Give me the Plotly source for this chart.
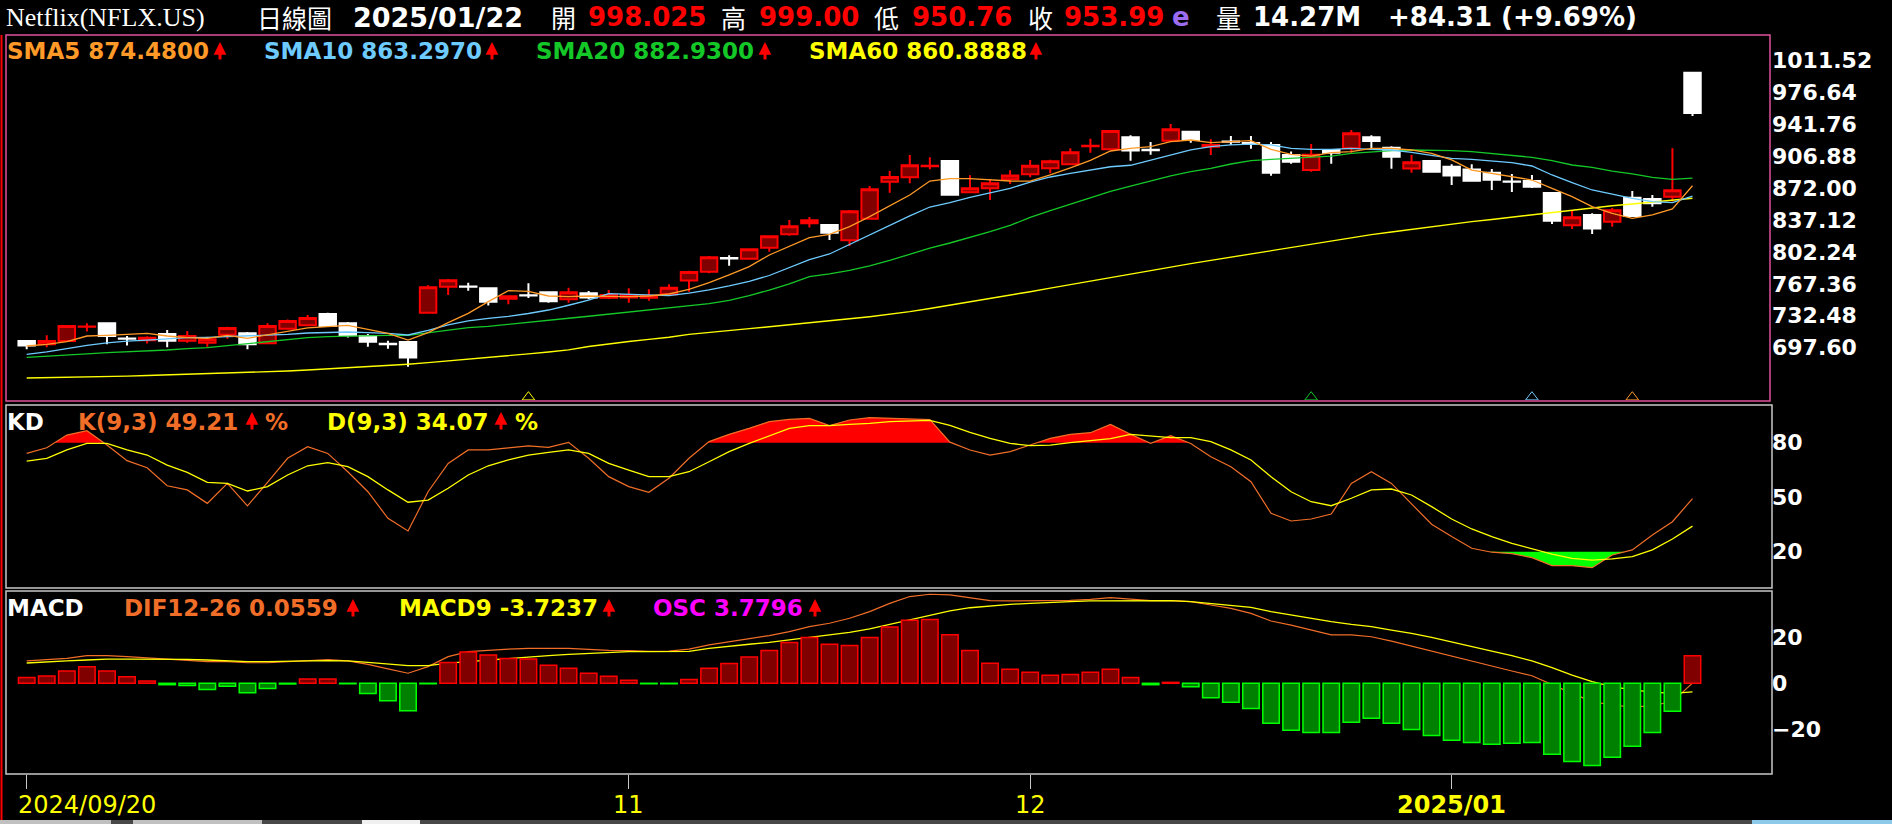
import plotly.graph_objects as go

W, H = 1892, 824

# ---------------- data ----------------
dates = [
    "2024-09-20", "2024-09-23", "2024-09-24", "2024-09-25", "2024-09-26", "2024-09-27", "2024-09-30",
    "2024-10-01", "2024-10-02", "2024-10-03", "2024-10-04", "2024-10-07", "2024-10-08", "2024-10-09",
    "2024-10-10", "2024-10-11", "2024-10-14", "2024-10-15", "2024-10-16", "2024-10-17", "2024-10-18",
    "2024-10-21", "2024-10-22", "2024-10-23", "2024-10-24", "2024-10-25", "2024-10-28", "2024-10-29",
    "2024-10-30", "2024-10-31",
    "2024-11-01", "2024-11-04", "2024-11-05", "2024-11-06", "2024-11-07", "2024-11-08", "2024-11-11",
    "2024-11-12", "2024-11-13", "2024-11-14", "2024-11-15", "2024-11-18", "2024-11-19", "2024-11-20",
    "2024-11-21", "2024-11-22", "2024-11-25", "2024-11-26", "2024-11-27", "2024-11-29",
    "2024-12-02", "2024-12-03", "2024-12-04", "2024-12-05", "2024-12-06", "2024-12-09", "2024-12-10",
    "2024-12-11", "2024-12-12", "2024-12-13", "2024-12-16", "2024-12-17", "2024-12-18", "2024-12-19",
    "2024-12-20", "2024-12-23", "2024-12-24", "2024-12-26", "2024-12-27", "2024-12-30", "2024-12-31",
    "2025-01-02", "2025-01-03", "2025-01-06", "2025-01-07", "2025-01-08", "2025-01-10", "2025-01-13",
    "2025-01-14", "2025-01-15", "2025-01-16", "2025-01-17", "2025-01-21", "2025-01-22",
]

open_ = [
    704.9, 701.3, 704.9, 720.4, 724.3, 707.8, 705.7, 712.6, 705.3, 703.1,
    711.9, 713.3, 702.4, 718.4, 722.1, 734.5, 724.3, 710.4, 702.0, 703.9,
    735.9, 764.3, 764.5, 762.5, 751.2, 755.0, 758.1, 750.5, 757.0, 752.3,
    752.6, 752.3, 755.9, 770.9, 780.7, 795.5, 794.9, 806.9, 821.5, 833.5,
    831.7, 814.9, 838.6, 879.0, 883.7, 895.8, 901.6, 867.4, 871.7, 881.6,
    887.0, 893.6, 897.9, 917.8, 914.3, 927.4, 913.8, 923.8, 933.6, 917.2,
    922.9, 921.1, 919.1, 908.1, 891.7, 913.6, 915.4, 927.6, 916.1, 893.4,
    901.6, 895.2, 892.3, 888.6, 879.2, 879.7, 866.6, 831.3, 842.6, 835.3,
    861.5, 860.1, 862.6, 998.025,
]
high = [
    706.0, 711.1, 722.4, 724.3, 724.6, 710.4, 710.1, 717.0, 715.9, 709.7,
    720.6, 714.8, 724.3, 728.3, 733.4, 735.9, 725.7, 712.6, 705.3, 704.2,
    765.8, 772.7, 768.7, 762.9, 754.8, 767.9, 758.5, 763.2, 759.6, 760.7,
    762.5, 761.6, 766.9, 781.8, 797.8, 798.5, 806.2, 820.0, 837.1, 840.4,
    832.0, 848.0, 874.3, 890.6, 908.1, 905.6, 901.9, 885.9, 881.9, 891.4,
    902.7, 903.0, 915.4, 926.0, 935.4, 929.6, 922.3, 942.0, 934.7, 925.2,
    928.9, 928.9, 922.3, 912.0, 920.1, 914.0, 935.4, 929.8, 917.6, 908.0,
    902.7, 898.1, 898.1, 892.8, 887.4, 886.3, 866.8, 847.0, 844.4, 850.2,
    868.8, 864.4, 915.4, 999.00,
]
low = [
    695.9, 698.0, 703.9, 715.2, 701.3, 699.9, 702.1, 698.0, 703.1, 698.8,
    707.5, 695.9, 701.7, 717.7, 721.3, 720.6, 708.9, 698.8, 696.6, 676.9,
    735.2, 755.2, 759.9, 743.6, 745.0, 751.9, 746.8, 746.8, 750.5, 750.8,
    746.8, 749.0, 754.1, 758.8, 778.9, 787.2, 794.2, 802.5, 820.0, 828.8,
    815.3, 808.7, 837.9, 867.0, 877.2, 892.5, 863.7, 866.3, 859.0, 876.5,
    883.7, 888.1, 897.2, 910.7, 913.6, 901.9, 908.5, 922.7, 921.6, 908.1,
    919.1, 914.9, 885.4, 898.6, 889.7, 898.6, 910.7, 915.4, 893.0, 888.8,
    888.8, 875.4, 878.8, 869.9, 867.7, 872.1, 832.8, 827.3, 821.8, 829.8,
    840.8, 851.7, 857.2, 950.76,
]
close = [
    699.9, 705.0, 721.3, 720.8, 710.4, 707.3, 708.6, 705.3, 710.4, 706.8,
    719.2, 701.3, 721.3, 726.8, 730.1, 721.3, 711.1, 704.2, 701.5, 686.8,
    763.6, 771.2, 764.1, 747.9, 753.7, 754.6, 748.3, 758.1, 752.6, 755.2,
    755.2, 754.5, 763.2, 780.3, 796.4, 795.1, 805.1, 819.3, 830.2, 836.8,
    823.3, 846.6, 870.6, 884.1, 896.8, 896.3, 864.8, 871.7, 877.2, 885.6,
    896.5, 901.2, 911.0, 918.2, 934.3, 912.9, 913.4, 936.2, 924.5, 919.1,
    922.5, 920.7, 888.8, 900.8, 908.5, 910.7, 931.8, 923.4, 906.3, 900.1,
    889.9, 885.6, 880.0, 881.2, 878.8, 873.5, 836.2, 840.1, 827.7, 847.7,
    841.5, 855.3, 869.7, 953.99,
]

sma5 = [
    699.5, 701.3, 704.2, 710.4, 711.1, 712.2, 713.3, 710.4, 708.6, 707.9,
    711.1, 707.9, 711.5, 715.2, 719.2, 720.6, 722.1, 717.7, 713.3, 706.0,
    714.1, 725.0, 735.2, 748.0, 760.0, 759.2, 754.1, 753.4, 754.1, 753.7,
    753.4, 754.1, 756.3, 761.4, 768.7, 777.1, 786.2, 798.9, 808.0, 817.8,
    821.5, 829.8, 840.8, 852.4, 864.4, 879.7, 882.3, 882.3, 880.8, 879.7,
    879.5, 886.3, 894.0, 902.2, 912.5, 915.4, 917.2, 922.7, 924.5, 921.6,
    922.7, 923.8, 914.3, 908.9, 907.0, 910.7, 911.8, 915.4, 915.4, 913.6,
    909.9, 902.7, 891.7, 888.1, 883.7, 880.8, 871.7, 862.6, 851.7, 844.4,
    838.9, 842.6, 849.2, 874.48,
]
sma10 = [
    690.4, 693.0, 696.6, 700.2, 702.8, 704.9, 706.0, 707.5, 708.6, 709.0,
    709.7, 710.4, 711.1, 712.2, 713.7, 714.4, 714.8, 714.1, 713.3, 711.5,
    716.5, 722.5, 727.0, 729.6, 731.8, 735.0, 738.8, 744.0, 749.5, 756.7,
    755.8, 754.6, 754.5, 757.3, 760.7, 765.1, 770.2, 776.5, 784.9, 793.9,
    800.0, 810.6, 820.5, 831.2, 841.7, 851.3, 856.1, 861.9, 867.0, 871.7,
    878.6, 884.1, 888.1, 891.5, 895.3, 896.9, 902.2, 908.1, 913.6, 917.2,
    919.1, 920.1, 919.1, 915.4, 914.3, 914.3, 915.4, 914.3, 913.6, 911.0,
    908.1, 904.5, 903.4, 901.9, 899.8, 896.1, 886.3, 877.9, 869.9, 865.5,
    860.8, 857.2, 856.1, 863.297,
]
sma20 = [
    687.1, 688.6, 689.7, 690.8, 692.2, 693.0, 693.7, 695.1, 696.6, 697.7,
    699.9, 702.1, 704.0, 706.2, 708.6, 709.7, 710.4, 710.8, 711.1, 711.2,
    714.2, 717.2, 719.5, 721.0, 723.0, 725.2, 727.2, 729.8, 732.0, 734.3,
    736.2, 738.6, 740.6, 742.8, 745.8, 749.4, 754.5, 760.6, 767.4, 775.3,
    778.2, 782.2, 787.1, 792.9, 799.5, 806.4, 812.0, 818.0, 824.3, 831.2,
    839.9, 847.3, 854.6, 861.5, 868.4, 874.0, 879.8, 885.2, 889.9, 893.6,
    898.3, 901.9, 903.4, 904.5, 905.6, 907.0, 909.9, 911.8, 912.9, 913.6,
    913.6, 912.9, 911.8, 909.9, 908.1, 905.6, 901.9, 897.2, 894.7, 890.6,
    887.4, 883.7, 881.6, 882.93,
]
sma60 = [
    664.5, 664.8, 665.1, 665.5, 666.1, 666.6, 667.2, 667.8, 668.4, 669.1,
    669.8, 670.5, 671.3, 672.2, 673.2, 674.4, 675.6, 676.8, 678.1, 679.6,
    681.3, 683.1, 685.0, 686.9, 688.8, 690.9, 693.0, 695.3, 699.0, 702.0,
    704.4, 706.7, 709.0, 712.2, 714.5, 716.5, 718.5, 720.5, 722.5, 724.6,
    726.9, 729.2, 731.5, 734.0, 737.0, 740.5, 744.0, 747.6, 751.2, 755.0,
    758.8, 762.7, 766.6, 770.5, 774.4, 778.4, 782.5, 786.0, 789.5, 793.0,
    796.5, 800.0, 803.6, 807.2, 810.9, 814.6, 818.2, 821.1, 824.0, 827.0,
    829.9, 832.8, 835.3, 837.7, 840.2, 842.6, 845.1, 848.1, 850.6, 852.7,
    854.6, 856.6, 858.6, 860.8888,
]

k_vals = [
    74.1, 77.2, 84.2, 86.6, 78.7, 70.1, 66.2, 56.3, 54.0, 46.6,
    57.6, 45.2, 58.2, 71.4, 77.8, 74.1, 64.0, 53.0, 38.4, 31.4,
    53.0, 68.6, 76.0, 76.0, 77.2, 78.3, 77.4, 80.2, 71.4, 61.3,
    55.8, 52.7, 60.4, 71.4, 80.6, 84.6, 87.9, 91.6, 92.8, 93.4,
    89.4, 92.5, 93.8, 93.4, 93.0, 92.7, 80.3, 76.0, 73.2, 75.1,
    78.7, 82.4, 84.6, 85.5, 90.1, 84.6, 79.6, 83.9, 79.6, 72.3,
    66.8, 58.5, 41.1, 36.9, 38.0, 40.7, 57.6, 64.0, 57.6, 46.6,
    35.1, 28.3, 21.9, 19.7, 18.9, 16.7, 12.3, 12.3, 11.2, 18.2,
    21.0, 29.2, 36.5, 49.21,
]
d_vals = [
    69.9, 71.4, 76.0, 79.6, 79.6, 76.0, 73.2, 67.7, 63.7, 58.2,
    57.6, 53.4, 55.8, 62.2, 67.3, 69.0, 66.8, 61.3, 54.0, 47.2,
    48.4, 54.9, 62.2, 67.3, 70.5, 73.2, 74.7, 76.0, 74.1, 68.6,
    64.9, 61.3, 61.3, 64.0, 69.5, 75.1, 79.6, 83.9, 87.9, 89.4,
    89.4, 90.1, 90.6, 91.6, 92.1, 92.3, 89.5, 85.7, 82.4, 79.6,
    78.4, 78.7, 80.0, 81.1, 82.2, 84.6, 83.7, 82.8, 82.8, 80.6,
    76.0, 70.5, 61.3, 53.0, 47.5, 45.3, 49.4, 54.0, 54.5, 51.2,
    44.8, 38.0, 32.5, 28.3, 24.6, 21.5, 18.6, 16.3, 15.4, 16.0,
    17.3, 21.0, 27.0, 34.07,
]

dif = [
    9.8, 10.2, 10.9, 12.1, 12.1, 11.7, 11.2, 10.6, 10.1, 9.5,
    9.5, 9.0, 9.0, 9.5, 10.1, 10.4, 9.8, 8.3, 6.3, 4.4,
    7.3, 11.7, 13.9, 14.6, 15.0, 15.3, 15.3, 15.3, 14.9, 14.4,
    14.3, 14.0, 14.1, 15.0, 16.8, 18.2, 19.4, 20.9, 22.6, 24.8,
    26.3, 28.5, 31.4, 35.0, 38.0, 39.0, 38.7, 37.5, 36.2, 36.1,
    36.1, 36.1, 36.3, 36.8, 37.5, 36.9, 36.2, 36.2, 35.8, 34.3,
    32.8, 30.6, 27.3, 25.5, 23.3, 21.2, 21.2, 20.4, 18.5, 16.3,
    13.9, 11.7, 9.5, 7.3, 5.4, 3.3, -0.7, -4.4, -8.0, -9.5,
    -10.4, -9.8, -8.0, 0.0559,
]
macd9 = [
    8.9, 9.2, 9.8, 10.2, 10.6, 10.6, 10.6, 10.5, 10.5, 10.2,
    9.8, 9.5, 9.5, 9.5, 9.8, 9.9, 9.8, 9.2, 8.3, 7.7,
    7.7, 8.8, 9.5, 10.2, 10.9, 11.7, 12.1, 12.7, 13.1, 13.6,
    13.9, 13.9, 13.9, 14.0, 15.3, 16.3, 17.1, 17.9, 19.0, 20.1,
    21.2, 22.3, 23.8, 25.8, 27.7, 29.9, 31.7, 33.1, 34.0, 34.6,
    35.0, 35.5, 35.8, 36.1, 36.2, 36.2, 36.2, 36.2, 35.8, 35.0,
    34.3, 33.3, 31.4, 29.9, 28.5, 27.0, 25.8, 24.8, 23.3, 21.9,
    20.1, 18.2, 16.0, 14.1, 12.1, 9.8, 6.9, 3.6, 0.7, -1.5,
    -2.9, -3.9, -4.4, -3.7237,
]
osc = [
    0.81, 1.00, 1.69, 2.25, 1.69, 0.88, 0.31, -0.19, -0.31, -0.84,
    -0.41, -1.28, -0.72, -0.09, 0.59, 0.59, -0.06, -1.41, -2.38, -3.75,
    -0.06, 2.84, 4.28, 3.88, 3.41, 3.34, 2.47, 2.06, 1.38, 0.97,
    0.41, -0.06, -0.06, 0.53, 2.06, 2.72, 3.59, 4.50, 5.59, 6.28,
    5.34, 5.19, 6.28, 7.72, 8.63, 8.75, 6.63, 4.50, 2.75, 1.91,
    1.50, 1.09, 1.22, 1.50, 1.91, 0.81, -0.19, 0.13, -0.47, -1.97,
    -2.59, -3.44, -5.47, -6.44, -6.72, -6.72, -5.34, -4.78, -5.47, -6.31,
    -7.13, -7.81, -8.09, -8.34, -8.22, -8.09, -9.72, -10.69, -11.25, -10.13,
    -8.63, -6.72, -3.84, 3.7796,
]

tick_dates = ["2024-09-20", "2024-11-01", "2024-12-02", "2025-01-02"]
tick_text = ["2024/09/20", "11", "12", "2025/01"]

signal_dates = ["2024-10-25", "2024-12-20", "2025-01-08", "2025-01-16"]
signal_colors = ["#ffff00", "#14c828", "#6ecbff", "#ff9a28"]

price_ticks = [697.60, 732.48, 767.36, 802.24, 837.12, 872.00, 906.88, 941.76, 976.64, 1011.52]

for arr in (open_, high, low, close, sma5, sma10, sma20, sma60, k_vals, d_vals, dif, macd9, osc):
    assert len(arr) == len(dates), len(arr)

# ---------------- styling constants ----------------
ORANGE = "#ff9a28"
BLUE = "#6ecbff"
GREEN = "#14c828"
YELLOW = "#ffff00"
KORANGE = "#f06e28"
RED = "#ff0000"
MAGENTA = "#ff00ff"

x = list(range(len(dates)))
OSC_SCALE = 3.2


def fill_polys(xs, vals, level, above):
    px, py = [], []
    n = len(xs)
    inside = [(v > level) if above else (v < level) for v in vals]
    i = 0
    while i < n:
        if not inside[i]:
            i += 1
            continue
        sx, sy = [], []
        if i > 0:
            x0, v0, x1, v1 = xs[i - 1], vals[i - 1], xs[i], vals[i]
            t = (level - v0) / (v1 - v0)
            sx.append(x0 + t * (x1 - x0))
        else:
            sx.append(xs[i])
        sy.append(level)
        j = i
        while j < n and inside[j]:
            sx.append(xs[j])
            sy.append(vals[j])
            j += 1
        if j < n:
            x0, v0, x1, v1 = xs[j - 1], vals[j - 1], xs[j], vals[j]
            t = (level - v0) / (v1 - v0)
            sx.append(x0 + t * (x1 - x0))
        else:
            sx.append(xs[j - 1])
        sy.append(level)
        px += sx + [None]
        py += sy + [None]
        i = j
    return px, py


fig = go.Figure()

# ---- main panel: candles + moving averages ----
fig.add_trace(go.Candlestick(
    x=x, open=open_, high=high, low=low, close=close,
    increasing=dict(line=dict(color=RED, width=2), fillcolor="#800000"),
    decreasing=dict(line=dict(color="#ffffff", width=2), fillcolor="#ffffff"),
    whiskerwidth=0, hoverinfo="skip", xaxis="x", yaxis="y",
))
for vals, col, w in ((sma60, YELLOW, 1.4), (sma20, GREEN, 1.3), (sma10, BLUE, 1.3), (sma5, ORANGE, 1.3)):
    fig.add_trace(go.Scatter(x=x, y=vals, mode="lines", line=dict(color=col, width=w),
                             hoverinfo="skip", xaxis="x", yaxis="y"))

sig_x = [dates.index(d) for d in signal_dates]
fig.add_trace(go.Scatter(
    x=sig_x, y=[643.6] * len(sig_x), mode="markers",
    marker=dict(symbol="triangle-up-open", size=11, color=signal_colors,
                line=dict(color=signal_colors, width=1)),
    hoverinfo="skip", xaxis="x", yaxis="y",
))

# ---- KD panel ----
rx, ry = fill_polys(x, k_vals, 80, True)
fig.add_trace(go.Scatter(x=rx, y=ry, mode="lines", fill="toself", fillcolor="#ff0000",
                         line=dict(width=0, color="#ff0000"), hoverinfo="skip",
                         xaxis="x", yaxis="y2"))
gx, gy = fill_polys(x, k_vals, 20, False)
fig.add_trace(go.Scatter(x=gx, y=gy, mode="lines", fill="toself", fillcolor="#00ff00",
                         line=dict(width=0, color="#00ff00"), hoverinfo="skip",
                         xaxis="x", yaxis="y2"))
fig.add_trace(go.Scatter(x=x, y=k_vals, mode="lines", line=dict(color=KORANGE, width=1.2),
                         hoverinfo="skip", xaxis="x", yaxis="y2"))
fig.add_trace(go.Scatter(x=x, y=d_vals, mode="lines", line=dict(color=YELLOW, width=1.3),
                         hoverinfo="skip", xaxis="x", yaxis="y2"))

# ---- MACD panel ----
bar_fill = ["#800000" if v >= 0 else "#008000" for v in osc]
bar_line = ["#ff0000" if v >= 0 else "#00ff00" for v in osc]
fig.add_trace(go.Bar(x=x, y=osc, width=0.82,
                     marker=dict(color=bar_fill, line=dict(color=bar_line, width=1.5)),
                     hoverinfo="skip", xaxis="x", yaxis="y4"))
fig.add_trace(go.Scatter(x=x, y=dif, mode="lines", line=dict(color=KORANGE, width=1.2),
                         hoverinfo="skip", xaxis="x", yaxis="y3"))
fig.add_trace(go.Scatter(x=x, y=macd9, mode="lines", line=dict(color=YELLOW, width=1.3),
                         hoverinfo="skip", xaxis="x", yaxis="y3"))

# ---------------- layout ----------------
PX0, PX1 = 6, 1771


def pxx(p):
    return p / W


def pyy(p):
    return 1 - p / H


xr0 = -1.031
xr1 = xr0 + (PX1 - PX0) / 20.07
tick_idx = [dates.index(d) for d in tick_dates]

axis_font = dict(family="DejaVu Sans", size=22, color="#ffffff", weight="bold")
common_y = dict(showgrid=False, zeroline=False, showline=False, ticks="", side="right",
                anchor="x", tickfont=axis_font, automargin=False, fixedrange=True)

MACD_LO, MACD_HI = -39.73, 40.43

fig.update_layout(
    template="none",
    width=W, height=H,
    margin=dict(l=0, r=0, t=0, b=0, pad=0),
    paper_bgcolor="#000000", plot_bgcolor="#000000",
    showlegend=False, hovermode=False,
    boxgap=0.18, boxgroupgap=0.0,
    bargap=0,
    xaxis=dict(domain=[pxx(PX0), pxx(PX1)], range=[xr0, xr1], anchor="y3",
               showgrid=False, zeroline=False, showline=False,
               tickvals=tick_idx, ticktext=tick_text, showticklabels=False,
               ticks="outside", ticklen=14, tickwidth=1, tickcolor="#c8c8c8",
               rangeslider=dict(visible=False), automargin=False, fixedrange=True),
    yaxis=dict(domain=[pyy(400), pyy(35)], range=[640.5, 1039.2],
               tickvals=price_ticks, tickformat=".2f", **common_y),
    yaxis2=dict(domain=[pyy(588), pyy(405)], range=[0.0, 100.75],
                tickvals=[20, 50, 80], **common_y),
    yaxis3=dict(domain=[pyy(774), pyy(591)], range=[MACD_LO, MACD_HI],
                tickvals=[-20, 0, 20], **common_y),
    yaxis4=dict(overlaying="y3", range=[MACD_LO / OSC_SCALE, MACD_HI / OSC_SCALE],
                visible=False, anchor="x", fixedrange=True),
)

# ---------------- decorations (panel frames, window strip) ----------------
shapes = [
    dict(type="rect", xref="paper", yref="paper", x0=pxx(6), x1=pxx(1770), y0=pyy(401), y1=pyy(35),
         line=dict(color="#e0509a", width=1.5)),
    dict(type="rect", xref="paper", yref="paper", x0=pxx(6), x1=pxx(1772), y0=pyy(588), y1=pyy(405),
         line=dict(color="#c8c8c8", width=1.5)),
    dict(type="rect", xref="paper", yref="paper", x0=pxx(6), x1=pxx(1772), y0=pyy(774), y1=pyy(591),
         line=dict(color="#c8c8c8", width=1.5)),
    dict(type="line", xref="paper", yref="paper", x0=pxx(1.5), x1=pxx(1.5), y0=pyy(820), y1=pyy(35),
         line=dict(color="#ff0000", width=2)),
    dict(type="rect", xref="paper", yref="paper", x0=0, x1=1, y0=0, y1=pyy(820),
         line=dict(width=0), fillcolor="#484848"),
    dict(type="rect", xref="paper", yref="paper", x0=0, x1=pxx(111), y0=0, y1=pyy(820),
         line=dict(width=0), fillcolor="#c0c0c0"),
    dict(type="rect", xref="paper", yref="paper", x0=pxx(133), x1=pxx(262), y0=0, y1=pyy(820),
         line=dict(width=0), fillcolor="#c0c0c0"),
    dict(type="rect", xref="paper", yref="paper", x0=pxx(362), x1=pxx(420), y0=0, y1=pyy(820),
         line=dict(width=0), fillcolor="#f0f0f0"),
    dict(type="rect", xref="paper", yref="paper", x0=pxx(1752), x1=1, y0=0, y1=pyy(820),
         line=dict(width=0), fillcolor="#8cc8e8"),
]
fig.update_layout(shapes=shapes)

ann = []


def txt(s, px, py, color, size=23, family="DejaVu Sans", weight="bold"):
    ann.append(dict(text=s, x=pxx(px), y=pyy(py), xref="paper", yref="paper",
                    xanchor="left", yanchor="middle", showarrow=False,
                    font=dict(family=family, size=size, color=color, weight=weight)))


def up_arrow(cx, top, bottom):
    ann.append(dict(text="", x=pxx(cx), y=pyy(top), xref="paper", yref="paper",
                    ax=0, ay=bottom - top, showarrow=True, arrowhead=2, arrowsize=0.85,
                    arrowwidth=3, arrowcolor=RED, standoff=0, startstandoff=0))


# title row
CJK = "Noto Sans CJK TC"
TY = 17
txt("Netflix(NFLX.US)", 4, TY, "#ffffff", size=26, family="Liberation Serif", weight="normal")
txt("日線圖", 255, TY, "#ffffff", size=25, family=CJK, weight="normal")
txt("2025/01/22", 351, TY, "#ffffff", size=27)
txt("開", 549, TY, "#ffffff", size=25, family=CJK, weight="normal")
txt("998.025", 586, TY, RED, size=26)
txt("高", 719, TY, "#ffffff", size=25, family=CJK, weight="normal")
txt("999.00", 757, TY, RED, size=26)
txt("低", 872, TY, "#ffffff", size=25, family=CJK, weight="normal")
txt("950.76", 910, TY, RED, size=26)
txt("收", 1026, TY, "#ffffff", size=25, family=CJK, weight="normal")
txt("953.99", 1062, TY, RED, size=26)
txt("e", 1170, TY, "#9c6cf0", size=26)
txt("量", 1214, TY, "#ffffff", size=25, family=CJK, weight="normal")
txt("14.27M", 1251, TY, "#ffffff", size=26)
txt("+84.31 (+9.69%)", 1386, TY, "#ffffff", size=26)

# moving-average legend
LY = 51
txt("SMA5 874.4800", 5, LY, ORANGE)
up_arrow(220, 42, 61)
txt("SMA10 863.2970", 262, LY, BLUE)
up_arrow(492, 42, 61)
txt("SMA20 882.9300", 534, LY, GREEN)
up_arrow(765, 42, 61)
txt("SMA60 860.8888", 807, LY, YELLOW)
up_arrow(1036, 42, 61)

# KD legend
KY = 421.5
txt("KD", 5, KY, "#ffffff")
txt("K(9,3) 49.21", 76, KY, KORANGE)
up_arrow(252, 412, 431)
txt("%", 263, KY, KORANGE)
txt("D(9,3) 34.07", 325, KY, YELLOW)
up_arrow(501, 412, 431)
txt("%", 513, KY, YELLOW)

# MACD legend
MY = 608
txt("MACD", 5, MY, "#ffffff")
txt("DIF12-26 0.0559", 122, MY, KORANGE)
up_arrow(353, 599, 618)
txt("MACD9 -3.7237", 397, MY, YELLOW)
up_arrow(609, 599, 618)
txt("OSC 3.7796", 651, MY, MAGENTA)
up_arrow(815, 599, 618)

# x-axis labels (positioned on the x axis scale)
for idx, lab in zip(tick_idx, tick_text):
    first = idx == tick_idx[0]
    ann.append(dict(text=lab, x=idx, xref="x", y=pyy(805), yref="paper",
                    xanchor="left" if first else "center", xshift=-11 if first else 0,
                    yanchor="middle", showarrow=False,
                    font=dict(family="DejaVu Sans", size=24, color=YELLOW,
                              weight="bold" if lab.startswith("2025") else "normal")))

fig.update_layout(annotations=ann)

fig.write_html(
    "out.html",
    config={"displayModeBar": False, "staticPlot": True},
    post_script="document.body.style.margin='0';document.body.style.overflow='hidden';",
)
